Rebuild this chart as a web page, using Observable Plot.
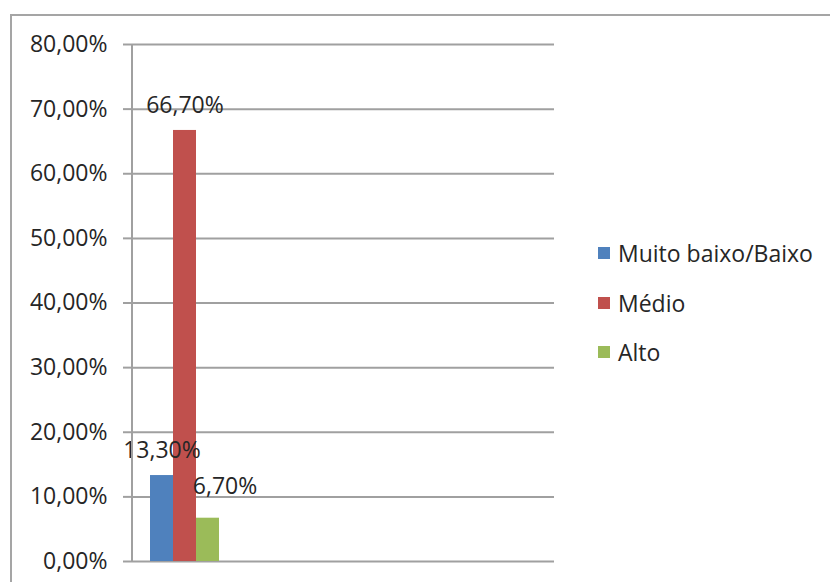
<!DOCTYPE html>
<html>
<head>
<meta charset="utf-8">
<script src="https://cdn.jsdelivr.net/npm/d3@7"></script>
<script src="https://cdn.jsdelivr.net/npm/@observablehq/plot@0.6"></script>
<style>
  html, body { margin: 0; padding: 0; background: #fff; }
  #wrap { position: relative; width: 830px; height: 582px; overflow: hidden; font-family: "Open Sans", Lato, sans-serif; }
  #frame { position: absolute; left: 10px; top: 14px; width: 900px; height: 700px; border-left: 2px solid #a5a5a5; border-top: 2px solid #a5a5a5; box-sizing: border-box; }
  #chart { position: absolute; left: 0; top: 0; }
  #legend { position: absolute; left: 598px; top: 238px; font-size: 23px; color: #262626; }
  #legend .item { display: flex; align-items: center; height: 30px; margin-bottom: 19.5px; }
  #legend .sw { width: 12px; height: 12px; margin-right: 8px; }
</style>
</head>
<body>
<div id="wrap">
  <div id="frame"></div>
  <div id="chart"></div>
  <div id="legend"></div>
</div>
<script>
// Data
const series = ["Muito baixo/Baixo", "Médio", "Alto"];
const values = [0.133, 0.667, 0.067];
const labels = ["13,30%", "66,70%", "6,70%"];
const colors = ["#4F81BD", "#C0504D", "#9BBB59"];
const yTicks = [0, 0.1, 0.2, 0.3, 0.4, 0.5, 0.6, 0.7, 0.8];
const yTickLabels = ["0,00%", "10,00%", "20,00%", "30,00%", "40,00%", "50,00%", "60,00%", "70,00%", "80,00%"];

const data = series.map((s, i) => ({series: s, value: values[i], label: labels[i]}));

const W = 830, H = 582;
const mL = 132, mR = 276, mT = 44, mB = 21;
// The chart has 4 category slots; only the first holds bars.
const slotW = (W - mL - mR) / 4;
const xRange = [mL + slotW * 0.168, mL + slotW * 0.832];
const FONT = "'Open Sans', Lato, sans-serif";

const chart = Plot.plot({
  width: W,
  height: H,
  marginLeft: mL,
  marginRight: mR,
  marginTop: mT,
  marginBottom: mB,
  style: {fontFamily: FONT, fontSize: "23px", color: "#262626", background: "transparent"},
  x: {type: "band", domain: series, range: xRange, padding: 0, axis: null},
  y: {domain: [0, 0.8]},
  color: {domain: series, range: colors},
  marks: [
    Plot.ruleY(yTicks, {stroke: "#a0a0a0", strokeWidth: 2, strokeOpacity: 1}),
    Plot.axisY({ticks: yTicks, tickFormat: (d) => yTickLabels[yTicks.indexOf(d)], tickSize: 9, tickPadding: 16, stroke: "#a0a0a0", strokeWidth: 2, strokeOpacity: 1, fill: "#262626", label: null, fontSize: 23}),
    Plot.barY(data, {x: "series", y: "value", fill: "series"}),
    Plot.text(data.filter(d => d.series !== "Alto"), {x: "series", y: "value", text: "label", dy: -25, fontSize: 23, fill: "#262626"}),
    Plot.text(data.filter(d => d.series === "Alto"), {x: "series", y: "value", text: "label", dy: -32, dx: 17, fontSize: 23, fill: "#262626"})
  ]
});
document.getElementById("chart").appendChild(chart);
// y axis line
d3.select(chart).append("line")
  .attr("x1", mL).attr("x2", mL)
  .attr("y1", mT).attr("y2", H - mB)
  .attr("stroke", "#a0a0a0").attr("stroke-width", 2);

const legend = document.getElementById("legend");
series.forEach((s, i) => {
  const item = document.createElement("div");
  item.className = "item";
  const sw = document.createElement("div");
  sw.className = "sw";
  sw.style.background = colors[i];
  const t = document.createElement("span");
  t.textContent = s;
  item.appendChild(sw);
  item.appendChild(t);
  legend.appendChild(item);
});
</script>
</body>
</html>
